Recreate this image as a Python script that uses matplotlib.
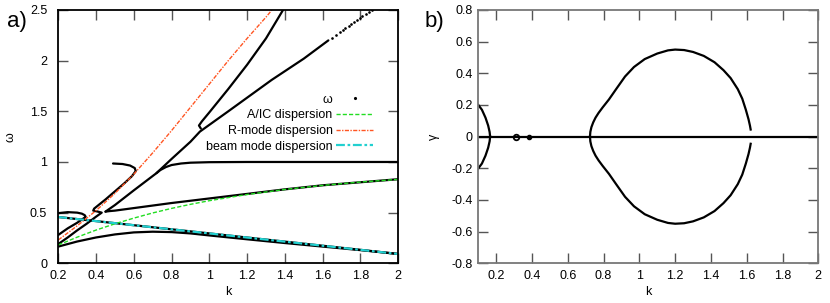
import matplotlib
matplotlib.use('Agg')

import matplotlib.pyplot as plt
from matplotlib import rcParams
from matplotlib.lines import Line2D
import numpy as np

rcParams['font.family'] = ['Liberation Sans', 'DejaVu Sans']
rcParams['font.size'] = 9.0

# ---- panel a) : real part of the roots, omega(k) ----
# analytic dispersion curves
k_aic = [0.2, 0.3, 0.4, 0.5, 0.6, 0.7, 0.8, 0.9, 1.0, 1.2, 1.4, 1.6, 1.8, 2.0]
w_aic = [0.181, 0.258, 0.328, 0.390, 0.446, 0.497, 0.542, 0.582, 0.618, 0.679, 0.729, 0.769, 0.802, 0.828]

k_rmode = [0.2, 0.3, 0.4, 0.5, 0.6, 0.7, 0.8, 0.9, 1.0, 1.1, 1.2, 1.3, 1.34]
w_rmode = [0.23, 0.37, 0.52, 0.69, 0.88, 1.09, 1.31, 1.54, 1.77, 2.00, 2.22, 2.43, 2.52]

k_beam = [0.2, 0.6, 1.0, 1.4, 1.8, 2.0]
w_beam = [0.457, 0.376, 0.295, 0.214, 0.133, 0.092]

k_low = [0.2, 0.3, 0.4, 0.5, 0.6, 0.7, 0.8, 0.9, 1.0, 1.2, 1.4, 1.6, 1.8, 2.0]
w_low = [0.165, 0.215, 0.255, 0.285, 0.305, 0.312, 0.308, 0.295, 0.275, 0.237, 0.200, 0.165, 0.130, 0.092]

k_lobe = [0.2, 0.25, 0.30, 0.325, 0.34, 0.345, 0.335, 0.30, 0.25, 0.2]
w_lobe = [0.495, 0.505, 0.50, 0.49, 0.475, 0.46, 0.445, 0.40, 0.345, 0.28]

k_s = [0.2, 0.25, 0.30, 0.35, 0.40, 0.43, 0.41, 0.385, 0.39, 0.45, 0.50, 0.55, 0.59, 0.61, 0.605, 0.58, 0.54, 0.49]
w_s = [0.19, 0.255, 0.325, 0.39, 0.46, 0.50, 0.51, 0.52, 0.54, 0.63, 0.71, 0.79, 0.86, 0.91, 0.94, 0.965, 0.98, 0.985]

k_c = [0.45, 0.5, 0.6, 0.72, 0.8, 0.9, 0.95, 1.1, 1.33, 1.5, 1.63]
w_c = [0.51, 0.575, 0.72, 0.89, 1.03, 1.2, 1.30, 1.50, 1.81, 2.02, 2.2]
k_c_dots = [1.65, 1.67, 1.69, 1.705, 1.72, 1.74, 1.75, 1.765, 1.78, 1.795, 1.81, 1.83, 1.845, 1.86]
w_c_dots = [2.225, 2.25, 2.28, 2.30, 2.32, 2.345, 2.36, 2.38, 2.40, 2.42, 2.44, 2.465, 2.485, 2.50]

k_alf = [0.45, 0.47, 0.5, 0.6, 0.7, 0.8, 1.0, 1.2, 1.4, 1.6, 1.8, 2.0]
w_alf = [0.51, 0.515, 0.52, 0.545, 0.57, 0.595, 0.64, 0.685, 0.73, 0.77, 0.80, 0.83]

k_d = [0.72, 0.74, 0.77, 0.8, 0.85, 0.9, 1.0, 1.2, 1.5, 2.0]
w_d = [0.89, 0.92, 0.95, 0.97, 0.985, 0.993, 0.998, 1.0, 1.0, 1.0]

k_e = [0.955, 0.945, 0.96, 1.0, 1.1, 1.2, 1.3, 1.39]
w_e = [1.33, 1.36, 1.40, 1.49, 1.72, 1.96, 2.22, 2.5]

# ---- panel b) : growth rate gamma(k) ----
k_loop = [0.724, 0.726, 0.732, 0.742, 0.755, 0.772, 0.795, 0.83, 0.87, 0.92, 0.97, 1.03, 1.1,
	1.16, 1.2, 1.25, 1.3, 1.36, 1.42, 1.47, 1.51, 1.55, 1.575, 1.595, 1.61, 1.618, 1.622]
g_loop = [0.0, 0.03, 0.06, 0.09, 0.12, 0.15, 0.185, 0.235, 0.30, 0.38, 0.44, 0.49, 0.525,
	0.545, 0.55, 0.547, 0.535, 0.51, 0.47, 0.42, 0.37, 0.30, 0.24, 0.17, 0.11, 0.07, 0.045]
k_arc = [0.1, 0.12, 0.14, 0.155, 0.163, 0.166]
g_arc = [0.20, 0.17, 0.12, 0.07, 0.03, 0.0]
k_zero = [0.1, 2.0]
k_blobs = [0.31, 0.385]

black_lw = 1.6
green = '#22dd22'
orange = '#ff5522'
cyan = '#22d0d0'


def style_axes(ax, spine_color):
	for s in ax.spines.values():
		s.set_color(spine_color)
		s.set_linewidth(1.3)
	ax.tick_params(direction='in', length=7, width=1, color='#555555',
		top=True, right=True, labelsize=9)


fig = plt.figure(figsize=(8.3, 3.03), dpi=100)
ax1 = fig.add_axes([0.0702, 0.131, 0.4096, 0.836])
ax2 = fig.add_axes([0.5763, 0.131, 0.4096, 0.836])

# panel a
ax1.plot(k_beam, w_beam, color='black', lw=black_lw)
for kk, ww in [(k_low, w_low), (k_lobe, w_lobe), (k_s, w_s), (k_c, w_c),
		(k_alf, w_alf), (k_d, w_d), (k_e, w_e)]:
	ax1.plot(kk, ww, color='black', lw=black_lw, solid_capstyle='round')
ax1.plot(k_c_dots, w_c_dots, ls='none', marker='.', ms=1.8, color='black')
ax1.plot(k_aic, w_aic, color=green, lw=1.0, dashes=(3, 1.5))
ax1.plot(k_rmode, w_rmode, color=orange, lw=1.0, dashes=(3, 1, 1, 1))
ax1.plot(k_beam, w_beam, color=cyan, lw=1.6, dashes=(4, 1.2, 1.2, 1.2))

ax1.set_xlim(0.2, 2)
ax1.set_ylim(0, 2.5)
ax1.set_xticks(np.arange(0.2, 2.01, 0.2))
ax1.set_xticklabels(['0.2', '0.4', '0.6', '0.8', '1', '1.2', '1.4', '1.6', '1.8', '2'])
ax1.set_yticks([0, 0.5, 1, 1.5, 2, 2.5])
ax1.set_yticklabels(['0', '0.5', '1', '1.5', '2', '2.5'])
style_axes(ax1, 'black')
ax1.tick_params(axis='y', pad=8)
ax1.tick_params(axis='x', pad=5)
ax1.set_xlabel('k', labelpad=3)
ax1.set_ylabel('ω', labelpad=10)

handles = [Line2D([], [], ls='none', marker='.', ms=2.5, color='black'),
	Line2D([], [], color=green, lw=1.0, dashes=(3, 1.5)),
	Line2D([], [], color=orange, lw=1.0, dashes=(3, 1, 1, 1)),
	Line2D([], [], color=cyan, lw=1.6, dashes=(4, 1.2, 1.2, 1.2))]
labels = ['ω', 'A/IC dispersion', 'R-mode dispersion', 'beam mode dispersion']
ax1.legend(handles, labels, loc='upper right', bbox_to_anchor=(0.925, 0.67),
	frameon=False, markerfirst=False, handlelength=2.9, handletextpad=0.3,
	labelspacing=0.3, borderpad=0, borderaxespad=0, fontsize=9)

# panel b
ax2.plot(k_zero, [0, 0], color='black', lw=black_lw)
ax2.plot(k_arc, g_arc, color='black', lw=black_lw)
ax2.plot(k_arc, [-g for g in g_arc], color='black', lw=black_lw)
ax2.plot(k_loop, g_loop, color='black', lw=black_lw)
ax2.plot(k_loop, [-g for g in g_loop], color='black', lw=black_lw)
ax2.plot(k_blobs[:1], [0], ls='none', marker='o', ms=4, mfc='none', mec='black', mew=1.3)
ax2.plot(k_blobs[1:], [0], ls='none', marker='o', ms=3, color='black')

ax2.set_xlim(0.1, 2)
ax2.set_ylim(-0.8, 0.8)
ax2.set_xticks(np.arange(0.2, 2.01, 0.2))
ax2.set_xticklabels(['0.2', '0.4', '0.6', '0.8', '1', '1.2', '1.4', '1.6', '1.8', '2'])
ax2.set_yticks(np.arange(-0.8, 0.81, 0.2))
ax2.set_yticklabels(['-0.8', '-0.6', '-0.4', '-0.2', '0', '0.2', '0.4', '0.6', '0.8'])
style_axes(ax2, '#777777')
ax2.tick_params(axis='y', pad=4)
ax2.tick_params(axis='x', pad=5)
ax2.set_xlabel('k', labelpad=3)
ax2.set_ylabel('γ', labelpad=8)

fig.text(0.008, 0.965, 'a)', fontsize=16, va='top', ha='left')
fig.text(0.511, 0.965, 'b)', fontsize=16, va='top', ha='left')

fig.savefig('out.png', dpi=100)
